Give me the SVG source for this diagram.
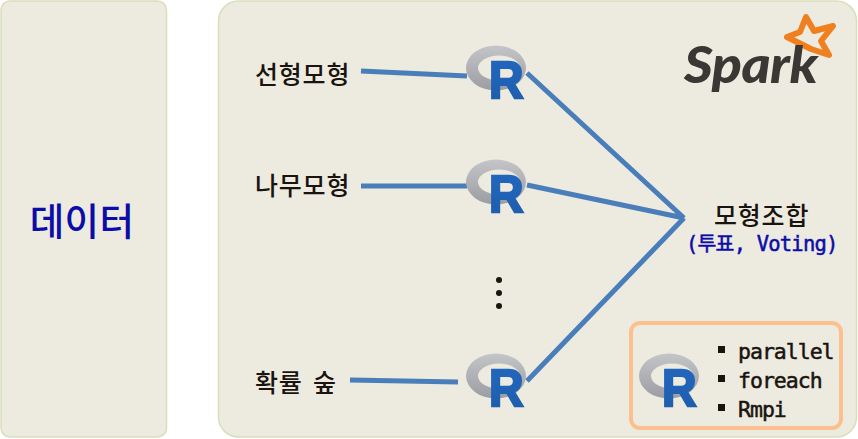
<svg xmlns="http://www.w3.org/2000/svg" width="858" height="439" viewBox="0 0 858 439">
<style>
.panel{fill:#edebdf;stroke:#d8dfba;stroke-width:1.5}
.line{stroke:#4a7ebb;stroke-width:5;fill:none}
.ko{font-family:"Noto Sans CJK KR","DejaVu Sans",sans-serif;font-weight:500;font-size:25px;fill:#1a1410;letter-spacing:.8px}
.mono{font-family:"DejaVu Sans Mono","Noto Sans CJK KR",monospace;font-weight:400;fill:#1a1410;stroke:#1a1410;stroke-width:.5px;font-size:21.5px;letter-spacing:-1px}
.blue{fill:#0c0ca8;stroke:#0c0ca8}
.rl{font-family:"Liberation Sans",sans-serif;font-weight:700;font-size:52px;fill:url(#rb);stroke:url(#rb);stroke-width:2.4px}
</style>
<defs>
<linearGradient id="rg" x1="0" y1="0" x2="0" y2="1"><stop offset="0" stop-color="#c4c5c8"/><stop offset="1" stop-color="#9c9da3"/></linearGradient>
<linearGradient id="rb" x1="0" y1="0" x2="0" y2="1"><stop offset="0" stop-color="#2368bf"/><stop offset="1" stop-color="#1d5cab"/></linearGradient>
<g id="rlogo">
<path fill="url(#rg)" fill-rule="evenodd" d="M-30 1a30 22.500 0 1 0 60 0a30 22.500 0 1 0 -60 0zM-18 1a21 12.500 0 1 1 42 0a21 12.500 0 1 1 -42 0z"/>
<text class="rl" transform="translate(-7 31) scale(.92 1)">R</text>
</g>
</defs>
<g id="data"><rect class="panel" x="1" y="1" width="165.500" height="436" rx="9"/>
<text x="82" y="235" text-anchor="middle" style="font-family:'Noto Sans CJK KR',sans-serif;font-weight:500;font-size:37.500px;fill:#0c0ca8;letter-spacing:.3px">데이터</text></g>
<g id="main"><rect class="panel" x="218.500" y="1" width="638" height="436" rx="20"/></g>
<g id="connectors">
<path class="line" d="M361 71L467 76"/>
<path class="line" d="M361 186H467"/>
<path class="line" d="M350 380L458 382"/>
<path class="line" d="M527 73L684 218M527 185L684 218M527 381L684 218"/>
</g>
<g id="model1"><text class="ko" x="255" y="84">선형모형</text><use href="#rlogo" x="496" y="67"/></g>
<g id="model2"><text class="ko" x="255" y="195">나무모형</text><use href="#rlogo" x="496" y="181"/></g>
<g id="dots"><circle cx="499" cy="280" r="3" fill="#1a1410"/><circle cx="499" cy="293" r="3" fill="#1a1410"/><circle cx="499" cy="306" r="3" fill="#1a1410"/></g>
<g id="model3"><text class="ko" x="255" y="392" xml:space="preserve" style="word-spacing:4px">확률 숲</text><use href="#rlogo" x="496" y="375"/></g>
<g id="combine"><text class="ko" x="714" y="225">모형조합</text>
<text class="mono blue" x="686" y="251" style="font-size:20.500px;letter-spacing:-.8px">(투표, Voting)</text></g>
<g id="spark">
<path fill="none" stroke="#f0801f" stroke-width="6" stroke-linejoin="round" d="M806 17L814 31L833 26L821 41L829 55L811 49L787 37L800 32Z"/>
<text transform="translate(684 83) scale(1.09 1)" style="font-family:Lato,sans-serif;font-weight:900;font-style:italic;font-size:51px;fill:#3a3734;letter-spacing:-.5px">Spark</text>
</g>
<g id="packages"><rect x="631" y="323" width="210" height="105" rx="9" fill="none" stroke="#fcc090" stroke-width="4"/>
<use href="#rlogo" x="669" y="375"/>
<rect x="718" y="346" width="7" height="7" fill="#1a1410"/><rect x="718" y="375" width="7" height="7" fill="#1a1410"/><rect x="718" y="404" width="7" height="7" fill="#1a1410"/>
<text class="mono" x="738" y="359">parallel</text><text class="mono" x="738" y="388">foreach</text><text class="mono" x="738" y="417">Rmpi</text></g>
</svg>
